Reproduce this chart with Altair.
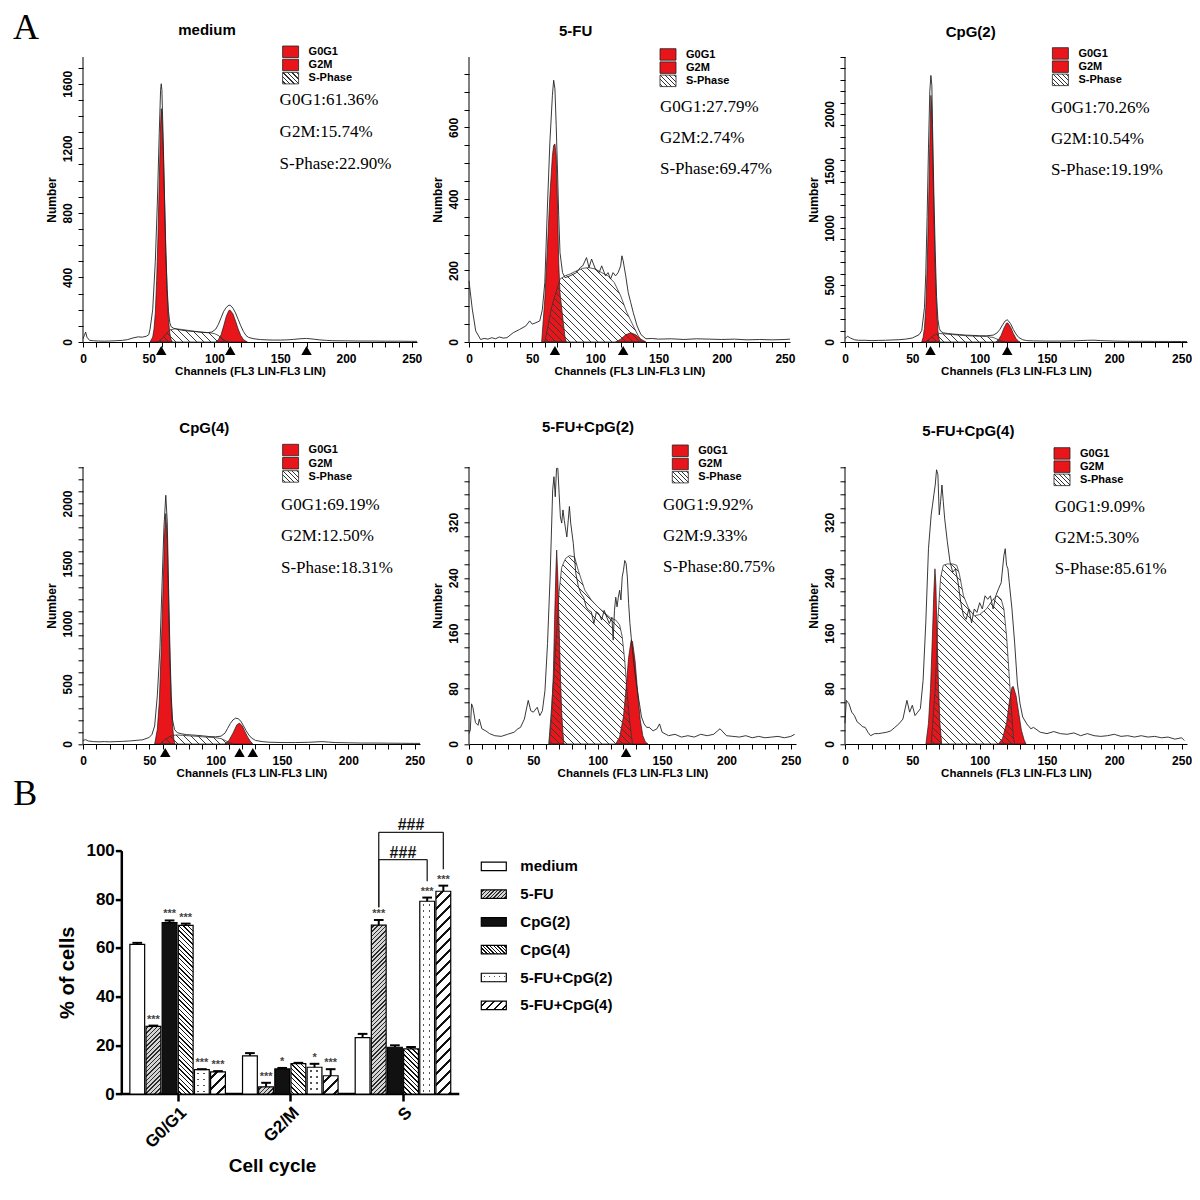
import json
import altair as alt
import pandas as pd

# ======================= DATA =======================
panel_titles = ["medium", "5-FU", "CpG(2)", "CpG(4)", "5-FU+CpG(2)", "5-FU+CpG(4)"]
phase_labels = ["G0G1", "G2M", "S-Phase"]

medium_stats = ["G0G1:61.36%", "G2M:15.74%", "S-Phase:22.90%"]
fu_stats = ["G0G1:27.79%", "G2M:2.74%", "S-Phase:69.47%"]
cpg2_stats = ["G0G1:70.26%", "G2M:10.54%", "S-Phase:19.19%"]
cpg4_stats = ["G0G1:69.19%", "G2M:12.50%", "S-Phase:18.31%"]
fucpg2_stats = ["G0G1:9.92%", "G2M:9.33%", "S-Phase:80.75%"]
fucpg4_stats = ["G0G1:9.09%", "G2M:5.30%", "S-Phase:85.61%"]

# --- medium ---
medium_raw_ch = [0, 1, 2, 3, 5, 8, 12, 16, 20, 25, 30, 34, 38, 42, 45, 48, 50, 51, 53, 55, 56.5, 58, 59, 59.5, 60, 61, 62, 63, 64, 65, 66, 67, 69, 72, 76, 80, 85, 90, 95, 98, 101, 103, 105, 107, 109, 111, 112, 114, 116, 118, 120, 122, 124, 126, 130, 135, 140, 145, 150, 155, 160, 165, 170, 175, 180, 185, 190, 200, 210, 220, 230, 240, 250, 254]
medium_raw_n = [20, 40, 62, 30, 10, 8, 6, 5, 6, 8, 10, 15, 25, 32, 30, 35, 45, 80, 200, 500, 850, 1300, 1560, 1600, 1560, 1250, 900, 560, 330, 190, 120, 95, 85, 78, 72, 68, 65, 60, 58, 62, 80, 110, 150, 190, 215, 228, 228, 210, 180, 140, 100, 65, 40, 28, 20, 15, 13, 12, 12, 13, 16, 20, 22, 18, 13, 10, 8, 7, 6, 6, 5, 5, 4, 4]
medium_g1_ch = [51, 53, 54, 55, 56, 57, 58, 59, 59.5, 60, 61, 62, 63, 64, 65, 66, 67, 68]
medium_g1_n = [0, 30, 80, 180, 380, 650, 1000, 1350, 1446, 1420, 1200, 880, 560, 300, 140, 55, 15, 0]
medium_g2_ch = [101, 103, 105, 107, 109, 111, 112, 114, 116, 118, 120, 122, 124, 125]
medium_g2_n = [0, 15, 45, 100, 160, 196, 196, 175, 130, 80, 40, 15, 4, 0]
medium_s_ch = [57, 60, 63, 66, 70, 75, 80, 85, 90, 95, 100, 103, 106, 109, 111]
medium_s_n = [0, 20, 50, 75, 82, 78, 72, 66, 62, 58, 52, 40, 20, 5, 0]
medium_markers = [59.5, 112, 170]

# --- 5-FU ---
fu_raw_ch = [0, 1, 2.6, 5.3, 9.2, 12, 15, 18, 21, 24, 27, 30, 35, 40, 45, 48, 50, 53, 56, 58, 60, 62, 64, 66, 67, 68, 69, 70, 71, 72, 74, 76, 80, 85, 88, 90, 93, 95, 97, 100, 103, 105, 108, 110, 112, 114, 116, 118, 120, 121, 122, 124, 126, 128, 130, 133, 136, 140, 145, 150, 160, 170, 180, 190, 200, 210, 220, 230, 240, 250, 254]
fu_raw_n = [171, 140, 92, 31, 7, 10, 8, 12, 9, 14, 11, 12, 26, 35, 45, 59, 50, 54, 59, 90, 166, 372, 559, 690, 732, 708, 606, 484, 353, 250, 194, 180, 185, 194, 208, 213, 236, 208, 232, 204, 194, 213, 185, 194, 176, 194, 185, 194, 213, 241, 227, 185, 138, 110, 82, 45, 21, 9, 10, 8, 9, 7, 9, 8, 7, 8, 6, 7, 6, 7, 8]
fu_g1_ch = [57.5, 60, 62, 64, 66, 67, 68, 69, 70, 71, 72, 74, 76, 77]
fu_g1_n = [0, 120, 260, 409, 521, 550, 554, 521, 390, 222, 138, 73, 12, 0]
fu_g2_ch = [116, 120, 124, 128, 132, 136, 140]
fu_g2_n = [0, 8, 20, 26, 20, 8, 0]
fu_s_ch = [60, 62, 65, 68, 72, 76, 80, 85, 90, 95, 100, 105, 110, 115, 120, 125, 130, 134, 137]
fu_s_n = [0, 36, 92, 129, 176, 185, 190, 199, 206, 208, 204, 194, 185, 166, 129, 82, 45, 17, 0]
fu_markers = [68, 122]

# --- CpG(2) ---
cpg2_raw_ch = [0, 2, 4, 7, 10, 15, 20, 25, 30, 35, 40, 45, 50, 55, 57, 59, 60, 61, 62, 63, 63.8, 64.5, 65, 66, 67, 68, 69, 70, 71, 73, 76, 80, 85, 90, 95, 100, 105, 110, 113, 115, 117, 119, 120.5, 121, 123, 125, 127, 129, 132, 135, 140, 150, 160, 170, 180, 185, 190, 200, 210, 220, 230, 240, 250, 254]
cpg2_raw_n = [30, 50, 35, 20, 15, 15, 12, 14, 15, 18, 20, 25, 35, 64, 100, 300, 600, 1100, 1700, 2200, 2338, 2250, 1900, 1300, 800, 400, 200, 120, 95, 80, 75, 70, 65, 60, 58, 55, 55, 60, 80, 110, 150, 185, 195, 190, 160, 110, 70, 40, 20, 12, 10, 8, 8, 10, 15, 16, 12, 8, 6, 6, 5, 5, 4, 4]
cpg2_g1_ch = [57, 58, 59, 60, 61, 62, 63, 63.8, 64.5, 65, 66, 67, 68, 69, 70, 70.5]
cpg2_g1_n = [0, 40, 120, 300, 650, 1150, 1750, 2163, 2050, 1750, 1150, 650, 300, 100, 20, 0]
cpg2_g2_ch = [112, 114, 116, 118, 120, 121, 123, 125, 127, 129, 130]
cpg2_g2_n = [0, 20, 60, 120, 166, 166, 130, 75, 30, 5, 0]
cpg2_s_ch = [60, 63, 66, 70, 75, 80, 85, 90, 95, 100, 105, 110, 113, 116, 119]
cpg2_s_n = [0, 30, 60, 75, 70, 65, 60, 55, 52, 50, 48, 40, 25, 10, 0]
cpg2_markers = [63.5, 120.5]

# --- CpG(4) ---
cpg4_raw_ch = [0, 2, 4, 8, 12, 16, 20, 25, 30, 35, 40, 45, 50, 52, 54, 56, 58, 59.5, 61, 62.4, 63.5, 64.5, 65.5, 66.5, 67.5, 69, 71, 74, 78, 82, 86, 90, 95, 100, 104, 107, 109, 111, 113, 115, 117, 119, 121, 123, 125, 127, 130, 135, 140, 150, 160, 170, 180, 185, 190, 200, 210, 220, 230, 240, 250, 254]
cpg4_raw_n = [30, 36, 25, 20, 18, 20, 18, 20, 22, 25, 30, 35, 55, 80, 150, 400, 800, 1300, 1800, 2069, 1850, 1300, 800, 400, 200, 120, 95, 85, 78, 75, 72, 68, 62, 60, 65, 90, 130, 170, 200, 215, 210, 190, 150, 110, 75, 50, 30, 20, 15, 12, 12, 14, 20, 16, 12, 10, 8, 8, 7, 6, 5, 5]
cpg4_g1_ch = [54, 56, 57.5, 59, 60.5, 61.5, 62.4, 63.5, 64.5, 65.5, 66.5, 67.5, 68.5, 69.2]
cpg4_g1_n = [0, 120, 350, 800, 1350, 1750, 1917, 1700, 1200, 700, 350, 150, 40, 0]
cpg4_g2_ch = [107, 110, 113, 116, 118, 120, 122, 124, 126, 128]
cpg4_g2_n = [0, 30, 90, 160, 174, 150, 105, 60, 25, 0]
cpg4_s_ch = [58, 62, 66, 70, 75, 80, 85, 90, 95, 100, 104, 107, 110, 113]
cpg4_s_n = [0, 40, 65, 75, 72, 68, 64, 60, 56, 52, 45, 30, 12, 0]
cpg4_markers = [62, 118, 128]

# --- 5-FU+CpG(2) ---
fucpg2_raw_ch = [0, 1, 2, 3, 5, 7, 8, 10, 13, 16, 20, 25, 30, 35, 38, 40, 43, 46, 48, 50, 53, 55, 57, 59, 61, 63, 65, 66, 67, 68, 69, 70, 71, 72, 73, 74, 76, 78, 79, 81, 83, 85, 87, 89, 91, 93, 95, 97, 99, 101, 103, 105, 107, 109, 111, 112, 113, 114, 115, 116, 117, 118, 119, 120, 121, 122, 123, 124, 125, 126, 127, 128, 130, 132, 134, 136, 138, 140, 143, 146, 148, 150, 155, 160, 165, 170, 175, 180, 185, 190, 195, 200, 205, 210, 215, 220, 225, 230, 235, 240, 245, 250, 253]
fucpg2_raw_n = [15, 20, 58, 53, 31, 27, 36, 22, 19, 15, 12, 11, 14, 17, 22, 24, 36, 63, 48, 46, 53, 41, 48, 77, 145, 241, 367, 386, 357, 398, 398, 362, 328, 319, 338, 323, 299, 343, 319, 290, 246, 227, 217, 212, 198, 193, 191, 174, 191, 188, 179, 193, 183, 174, 183, 150, 193, 212, 198, 212, 222, 208, 241, 251, 265, 261, 241, 203, 174, 154, 135, 116, 87, 63, 39, 29, 24, 24, 19, 22, 29, 17, 12, 14, 10, 12, 10, 14, 12, 14, 22, 12, 11, 10, 12, 9, 11, 9, 10, 11, 9, 11, 14]
fucpg2_g1_ch = [62.2, 64, 65.5, 66.5, 67.5, 68.1, 69, 70, 71, 72, 73, 73.8]
fucpg2_g1_n = [0, 40, 100, 180, 250, 280, 240, 170, 100, 45, 15, 0]
fucpg2_g2_ch = [114, 117, 120, 122, 124, 126, 127, 129, 131, 133, 135, 137, 139]
fucpg2_g2_n = [0, 10, 40, 80, 125, 150, 148, 120, 75, 35, 12, 3, 0]
fucpg2_s_ch = [62, 66, 70, 72, 75, 78, 82, 85, 90, 95, 100, 105, 110, 114, 117, 119, 121, 123, 125, 127]
fucpg2_s_n = [0, 100, 220, 255, 268, 272, 270, 250, 222, 208, 198, 190, 182, 179, 172, 155, 120, 70, 30, 0]
fucpg2_markers = [122]

# --- 5-FU+CpG(4) ---
fucpg4_raw_ch = [0, 0.5, 1, 3, 5, 7, 9, 11, 13, 15, 17, 19, 22, 25, 28, 31, 34, 37, 40, 43, 46, 48, 50, 52, 54, 56, 58, 60, 62, 64, 65, 66, 67, 68, 69, 70, 71, 72, 73, 74, 76, 78, 80, 82, 84, 86, 88, 90, 92, 94, 96, 98, 100, 102, 104, 106, 108, 110, 112, 114, 116, 118, 119, 120, 121, 122, 124, 126, 128, 130, 132, 135, 138, 140, 145, 150, 155, 160, 165, 170, 175, 180, 185, 190, 195, 200, 205, 210, 215, 220, 225, 230, 235, 240, 245, 250, 252]
fucpg4_raw_n = [30, 48, 63, 58, 46, 41, 32, 29, 25, 24, 17, 12, 15, 15, 16, 17, 19, 24, 29, 36, 63, 46, 56, 41, 46, 51, 92, 175, 282, 331, 345, 360, 374, 396, 389, 331, 350, 374, 350, 326, 292, 263, 248, 253, 233, 204, 185, 180, 195, 175, 195, 190, 204, 195, 214, 209, 214, 195, 214, 224, 233, 272, 282, 258, 253, 233, 195, 146, 88, 58, 39, 29, 22, 24, 17, 15, 18, 15, 14, 16, 12, 15, 12, 11, 12, 14, 11, 12, 10, 12, 10, 11, 9, 10, 7, 9, 5]
fucpg4_g1_ch = [60.1, 62, 63.5, 65, 66, 66.8, 67.5, 68.5, 69.5, 70.5, 71.8]
fucpg4_g1_n = [0, 30, 80, 160, 220, 253, 230, 150, 80, 30, 0]
fucpg4_g2_ch = [114, 117, 120, 122, 124, 125, 127, 129, 131, 133, 134.4]
fucpg4_g2_n = [0, 8, 30, 60, 82, 83, 70, 45, 20, 6, 0]
fucpg4_s_ch = [64, 67, 69, 71, 73, 76, 80, 83, 85, 88, 92, 96, 100, 105, 110, 113, 116, 118, 120, 122, 124, 125, 126]
fucpg4_s_n = [0, 80, 180, 240, 258, 260, 260, 258, 245, 214, 195, 185, 187, 195, 209, 214, 209, 195, 156, 97, 39, 10, 0]
fucpg4_markers = []

# y-axis: top of scale, minor tick step, labelled tick step, highest labelled tick
y_tops = [1766, 797, 2500, 2304, 400, 400]
y_minor = [100, 50, 100, 100, 20, 20]
y_major = [400, 200, 500, 500, 80, 80]
y_label_max = [1600, 600, 2000, 2000, 320, 320]

# ======================= BAR CHART (B) =======================
cycles = ["G0/G1", "G2/M", "S"]
groups = ["medium", "5-FU", "CpG(2)", "CpG(4)", "5-FU+CpG(2)", "5-FU+CpG(4)"]
g0g1_mean = [61.5, 27.8, 70.4, 69.3, 10.0, 9.1]
g0g1_err = [0.6, 0.3, 0.9, 0.7, 0.2, 0.3]
g2m_mean = [15.7, 2.9, 10.3, 12.5, 11.0, 7.5]
g2m_err = [1.1, 1.7, 0.4, 0.3, 1.4, 2.7]
s_mean = [23.2, 69.4, 19.2, 18.5, 79.2, 83.3]
s_err = [1.5, 2.1, 0.8, 0.8, 1.5, 2.3]
g0g1_sig = ["", "***", "***", "***", "***", "***"]
g2m_sig = ["", "***", "*", "", "*", "***"]
s_sig = ["", "***", "", "", "***", "***"]
br_from = [1, 1]
br_to = [4, 5]
br_level = [96.3, 107.5]
br_left_low = [76.7, 76.7]
br_right_low = [87.4, 92.3]
br_label = ["###", "###"]

# ======================= STYLE / LAYOUT =======================
SANS = "Liberation Sans"
SERIF = "Liberation Serif"
RED = "#e8161b"
XMAX = 254
ROW2_PAD = 18.7   # extra empty band above the second row of histograms

panel_layout = [
    dict(W=334, H=285, pad=0, title=(124, -27), sw=(199.6, -11), st=(196.6, 43.3, 31.7)),
    dict(W=321, H=285, pad=0, title=(106.6, -26), sw=(191, -8.3), st=(191, 50, 31.2)),
    dict(W=342, H=285, pad=0, title=(125.7, -25), sw=(207.4, -9.3), st=(206, 50.7, 31.3)),
    dict(W=337, H=277, pad=ROW2_PAD, title=(121.3, -39.3), sw=(199.6, -22.7), st=(198, 38, 31.3)),
    dict(W=327, H=277, pad=ROW2_PAD, title=(119, -40.3), sw=(203.3, -22), st=(194, 38, 31)),
    dict(W=342, H=277, pad=ROW2_PAD, title=(123.4, -36), sw=(209, -19.3), st=(209.7, 40, 31.2)),
]


def stripe_stops(L, period, lw, start, c_line, c_bg):
    stops = [{"offset": 0.0, "color": c_bg}]
    pos = start
    while pos < L:
        a = max(pos / L, 0.0)
        b = min((pos + lw) / L, 1.0)
        stops += [{"offset": round(a, 5), "color": c_bg},
                  {"offset": round(a, 5), "color": c_line},
                  {"offset": round(b, 5), "color": c_line},
                  {"offset": round(b, 5), "color": c_bg}]
        pos += period
    stops.append({"offset": 1.0, "color": c_bg})
    return stops


def hatch(w, h, period, lw, direction, c_line, c_bg):
    L = float(w + h)
    s = L / (w * w + h * h)
    stops = stripe_stops(L, period, lw, period / 2.0, c_line, c_bg)
    if direction == "\\":
        return {"gradient": "linear", "x1": 0, "y1": 1, "x2": s * w, "y2": 1 - s * h, "stops": stops}
    return {"gradient": "linear", "x1": 0, "y1": 0, "x2": s * w, "y2": s * h, "stops": stops}


def rows_fill(h, period, lw, c_line, c_bg):
    return {"gradient": "linear", "x1": 0, "y1": 0, "x2": 0, "y2": 1,
            "stops": stripe_stops(float(h), period, lw, period / 2.0, c_line, c_bg)}


def cols_fill(w, period, lw, c_line, c_bg):
    return {"gradient": "linear", "x1": 0, "y1": 0, "x2": 1, "y2": 0,
            "stops": stripe_stops(float(w), period, lw, period / 2.0, c_line, c_bg)}


def text_layer(t, x, y, size, weight="normal", font=SANS, align="left", baseline="middle", color="black"):
    return alt.Chart(pd.DataFrame({"t": [t]})).mark_text(
        align=align, baseline=baseline, fontSize=size, fontWeight=weight, font=font, color=color
    ).encode(text="t:N", x=alt.value(x), y=alt.value(y))


panel_series = [
    (medium_raw_ch, medium_raw_n, medium_g1_ch, medium_g1_n, medium_g2_ch, medium_g2_n, medium_s_ch, medium_s_n, medium_markers, medium_stats),
    (fu_raw_ch, fu_raw_n, fu_g1_ch, fu_g1_n, fu_g2_ch, fu_g2_n, fu_s_ch, fu_s_n, fu_markers, fu_stats),
    (cpg2_raw_ch, cpg2_raw_n, cpg2_g1_ch, cpg2_g1_n, cpg2_g2_ch, cpg2_g2_n, cpg2_s_ch, cpg2_s_n, cpg2_markers, cpg2_stats),
    (cpg4_raw_ch, cpg4_raw_n, cpg4_g1_ch, cpg4_g1_n, cpg4_g2_ch, cpg4_g2_n, cpg4_s_ch, cpg4_s_n, cpg4_markers, cpg4_stats),
    (fucpg2_raw_ch, fucpg2_raw_n, fucpg2_g1_ch, fucpg2_g1_n, fucpg2_g2_ch, fucpg2_g2_n, fucpg2_s_ch, fucpg2_s_n, fucpg2_markers, fucpg2_stats),
    (fucpg4_raw_ch, fucpg4_raw_n, fucpg4_g1_ch, fucpg4_g1_n, fucpg4_g2_ch, fucpg4_g2_n, fucpg4_s_ch, fucpg4_s_n, fucpg4_markers, fucpg4_stats),
]


def histogram_panel(i):
    raw_ch, raw_n, g1_ch, g1_n, g2_ch, g2_n, s_ch, s_n, markers, stats = panel_series[i]
    lay = panel_layout[i]
    W, H, P = lay["W"], lay["H"], lay["pad"]
    D = y_tops[i]
    HC = H + P
    DC = D * HC / H
    X = alt.X("ch:Q", scale=alt.Scale(domain=[0, XMAX], nice=False, zero=False),
              axis=alt.Axis(values=list(range(0, 251, 10)),
                            labelExpr="datum.value % 50 === 0 ? datum.label : ''",
                            format="d", title="Channels (FL3 LIN-FL3 LIN)", labelFlush=False,
                            labelOverlap=False, tickSize=5, labelPadding=6, labelFontSize=12,
                            labelFontWeight="bold", titleFontSize=11.5, titleFontWeight="bold",
                            titlePadding=1, grid=False))
    Y = alt.Y("n:Q", scale=alt.Scale(domain=[0, DC], nice=False),
              axis=alt.Axis(values=list(range(0, D + 1, y_minor[i])),
                            labelExpr=f"(datum.value % {y_major[i]} === 0 && datum.value <= {y_label_max[i]}) ? datum.label : ''",
                            format="d", title="Number", labelAngle=270, labelAlign="center",
                            labelBaseline="bottom", labelFlush=False, labelOverlap=False,
                            domain=False, tickSize=5, labelPadding=4, labelFontSize=12,
                            labelFontWeight="bold", titleFontSize=12, titleFontWeight="bold",
                            titlePadding=3, titleY=P + H / 2.0, grid=False))

    def df(a, b):
        return pd.DataFrame({"ch": a, "n": b})

    layers = []
    layers.append(alt.Chart(pd.DataFrame({"ch": [0], "n": [0], "n2": [D]})).mark_rule(
        color="black", strokeWidth=1).encode(x=X, y=Y, y2="n2:Q"))
    layers.append(alt.Chart(df(g1_ch, g1_n)).mark_area(fill=RED, opacity=1, stroke="#1a1a1a", strokeWidth=0.7).encode(x=X, y=Y))
    layers.append(alt.Chart(df(g2_ch, g2_n)).mark_area(fill=RED, opacity=1, stroke="#1a1a1a", strokeWidth=0.7).encode(x=X, y=Y))
    sw = (max(s_ch) - min(s_ch)) * W / XMAX
    sh = max(s_n) * H / D
    layers.append(alt.Chart(df(s_ch, s_n)).mark_area(
        fill=hatch(sw, sh, 7.0, 1.3, "\\", "#3a3a3a", "transparent"), opacity=1,
        stroke="#333333", strokeWidth=0.8).encode(x=X, y=Y))
    layers.append(alt.Chart(df(raw_ch, raw_n)).mark_line(color="#222222", strokeWidth=0.9).encode(x=X, y=Y))
    if markers:
        layers.append(alt.Chart(pd.DataFrame({"ch": markers})).mark_point(
            shape="triangle-up", filled=True, color="black", opacity=1, size=110).encode(x=X, y=alt.value(HC + 8.5)))
    tx, ty = lay["title"]
    layers.append(text_layer(panel_titles[i], tx, ty + P, 15, weight="bold", align="center"))
    lx, ly = lay["sw"]
    fills = [RED, RED, hatch(16, 11.5, 4.5, 1.2, "\\", "#333333", "white")]
    for k, lab in enumerate(phase_labels):
        y0 = ly + P + k * 13.2
        layers.append(alt.Chart(pd.DataFrame({"t": [lab]})).mark_rect(
            fill=fills[k], stroke="#222222", strokeWidth=0.8, opacity=1).encode(
            x=alt.value(lx), x2=alt.value(lx + 16), y=alt.value(y0), y2=alt.value(y0 + 11.5)))
        layers.append(text_layer(lab, lx + 26, y0 + 6, 11, weight="bold"))
    sx, sy, sd = lay["st"]
    for k, s in enumerate(stats):
        layers.append(text_layer(s, sx, sy + P + k * sd, 17, font=SERIF))
    if i == 0:
        layers.append(text_layer("A", -70, -46, 36, font=SERIF, baseline="top"))
    return alt.layer(*layers).properties(width=W, height=HC)


# ---------------- bar chart ----------------
BW = 0.86 / 6
INSET = 0.006
CAP = 0.3 * BW
AXIS_SHIFT = 38.3
W3, H3 = 337, 243.4
PX_PER_UNIT_X = 338 / 3.0
PX_PER_UNIT_Y = H3 / 100.0
XLO = -0.5 - AXIS_SHIFT / PX_PER_UNIT_X
XHI = XLO + W3 / PX_PER_UNIT_X

means = [g0g1_mean, g2m_mean, s_mean]
errs = [g0g1_err, g2m_err, s_err]
sigs = [g0g1_sig, g2m_sig, s_sig]
rows = []
for c, cyc in enumerate(cycles):
    for j, g in enumerate(groups):
        xc = c + (j - 2.5) * BW
        m = means[c][j]
        e = errs[c][j]
        rows.append(dict(cyc=cyc, grp=g, j=j, xc=xc, x0=xc - BW / 2 + INSET, x1=xc + BW / 2 - INSET,
                         y0=0.0, m=m, top=m + e, cl=xc - CAP, cr=xc + CAP, sig=sigs[c][j]))
bars = pd.DataFrame(rows)

SXB = alt.Scale(domain=[XLO, XHI], nice=False, zero=False)
SYB = alt.Scale(domain=[0, 100], nice=False)
AXB = alt.Axis(values=[0, 1, 2], labelExpr=json.dumps(cycles) + "[datum.value]", labelAngle=315,
               labelFontSize=17, labelFontWeight="bold", tickSize=7, tickWidth=2.5, domain=False,
               labelPadding=3, title="Cell cycle", titleFontSize=19, titleFontWeight="bold",
               titlePadding=6, titleX=189, labelFlush=False, labelOverlap=False, grid=False)
AYB = alt.Axis(values=[0, 20, 40, 60, 80, 100], format="d", labelFontSize=17, labelFontWeight="bold",
               tickSize=6, tickWidth=2.5, domainWidth=2.5, labelPadding=1, title="% of cells",
               titleFontSize=20, titleFontWeight="bold", titlePadding=8, grid=False,
               labelFlush=False, offset=-AXIS_SHIFT)


def BX(f):
    return alt.X(f, type="quantitative", scale=SXB, axis=AXB)


def BY(f):
    return alt.Y(f, type="quantitative", scale=SYB, axis=AYB)


def group_fill(j, w, h):
    if j == 0:
        return "white"
    if j == 1:
        return hatch(w, h, 4.3, 1.5, "/", "#2b2b2b", "#d4d4d4")
    if j == 2:
        return "#111111"
    if j == 3:
        return hatch(w, h, 4.6, 1.5, "\\", "#111111", "white")
    if j == 5:
        return hatch(w, h, 11.0, 2.8, "/", "#111111", "white")
    return None


blayers = []
blayers.append(alt.Chart(pd.DataFrame({"a": [-0.5], "b": [2.5], "y0": [0.0]})).mark_rule(
    color="black", strokeWidth=2.5).encode(x=BX("a"), x2=alt.X2("b"), y=BY("y0")))
for _, r in bars.iterrows():
    one = pd.DataFrame([r.to_dict()])
    w = (r.x1 - r.x0) * PX_PER_UNIT_X
    h = max(r.m * PX_PER_UNIT_Y, 0.5)
    if r.j == 4:
        blayers.append(alt.Chart(one).mark_rect(fill=rows_fill(h, 6.0, 1.4, "#555555", "white"), opacity=1).encode(
            x=BX("x0"), x2=alt.X2("x1"), y=BY("y0"), y2=alt.Y2("m")))
        blayers.append(alt.Chart(one).mark_rect(fill=cols_fill(w, 6.0, 1.4, "transparent", "white"), opacity=1,
                                                stroke="black", strokeWidth=1.2).encode(
            x=BX("x0"), x2=alt.X2("x1"), y=BY("y0"), y2=alt.Y2("m")))
    else:
        blayers.append(alt.Chart(one).mark_rect(fill=group_fill(r.j, w, h), opacity=1, stroke="black",
                                                strokeWidth=1.2).encode(
            x=BX("x0"), x2=alt.X2("x1"), y=BY("y0"), y2=alt.Y2("m")))

blayers.append(alt.Chart(bars).mark_rule(color="black", strokeWidth=2).encode(x=BX("xc"), y=BY("m"), y2=alt.Y2("top")))
blayers.append(alt.Chart(bars).mark_rule(color="black", strokeWidth=2).encode(x=BX("cl"), x2=alt.X2("cr"), y=BY("top")))
blayers.append(alt.Chart(bars[bars.sig != ""]).mark_text(baseline="bottom", dy=-1, fontSize=11, fontWeight="bold",
                                                          color="#444444", font=SANS).encode(
    x=BX("xc"), y=BY("top"), text="sig:N"))
brk = pd.DataFrame({
    "xl": [2 + (a - 2.5) * BW for a in br_from],
    "xr": [2 + (b - 2.5) * BW for b in br_to],
    "lev": br_level, "ll": br_left_low, "rl": br_right_low, "lab": br_label,
})
brk["xm"] = (brk.xl + brk.xr) / 2
blayers.append(alt.Chart(brk).mark_rule(color="#222222", strokeWidth=1.3).encode(x=BX("xl"), y=BY("ll"), y2=alt.Y2("lev")))
blayers.append(alt.Chart(brk).mark_rule(color="#222222", strokeWidth=1.3).encode(x=BX("xr"), y=BY("rl"), y2=alt.Y2("lev")))
blayers.append(alt.Chart(brk).mark_rule(color="#222222", strokeWidth=1.3).encode(x=BX("xl"), x2=alt.X2("xr"), y=BY("lev")))
blayers.append(alt.Chart(brk).mark_text(baseline="alphabetic", dy=-2, fontSize=16, fontWeight="bold", font=SANS,
                                        color="#111111").encode(x=BX("xm"), y=BY("lev"), text="lab:N"))

LX0 = 360 + AXIS_SHIFT
LX1 = 385 + AXIS_SHIFT
for k, g in enumerate(groups):
    cy = 15.7 + k * 27.8
    sw_h = 8.5
    lw_w = LX1 - LX0
    if k == 4:
        blayers.append(alt.Chart(pd.DataFrame({"t": [g]})).mark_rect(
            fill=rows_fill(sw_h, 5.0, 1.3, "#555555", "white"), opacity=1).encode(
            x=alt.value(LX0), x2=alt.value(LX1), y=alt.value(cy - sw_h / 2), y2=alt.value(cy + sw_h / 2)))
        fill = cols_fill(lw_w, 5.0, 1.3, "transparent", "white")
    elif k == 1:
        fill = hatch(lw_w, sw_h, 3.6, 1.3, "/", "#2b2b2b", "#d4d4d4")
    elif k == 3:
        fill = hatch(lw_w, sw_h, 3.6, 1.3, "\\", "#111111", "white")
    elif k == 5:
        fill = hatch(lw_w, sw_h, 8.0, 2.4, "/", "#111111", "white")
    else:
        fill = group_fill(k, lw_w, sw_h)
    blayers.append(alt.Chart(pd.DataFrame({"t": [g]})).mark_rect(
        fill=fill, opacity=1, stroke="black", strokeWidth=1.2).encode(
        x=alt.value(LX0), x2=alt.value(LX1), y=alt.value(cy - sw_h / 2), y2=alt.value(cy + sw_h / 2)))
    blayers.append(text_layer(g, LX1 + 14, cy, 15, weight="bold"))

blayers.append(text_layer("B", -69.7, -74, 36, font=SERIF, baseline="top"))
bar_chart = alt.layer(*blayers).properties(width=W3, height=H3)

panels = [histogram_panel(i) for i in range(6)]
chart = alt.concat(
    *panels, bar_chart, columns=3, spacing={"row": 106.3, "column": 49}, bounds="flush", align="each",
    padding={"left": 5, "top": 2, "right": 0, "bottom": 0},
).configure_view(stroke=None).configure_axis(
    domainColor="black", tickColor="black", labelColor="black", titleColor="black",
    labelFont=SANS, titleFont=SANS, grid=False
).configure_text(font=SANS)

chart.save("out.html", embed_options={"renderer": "svg", "actions": False})
